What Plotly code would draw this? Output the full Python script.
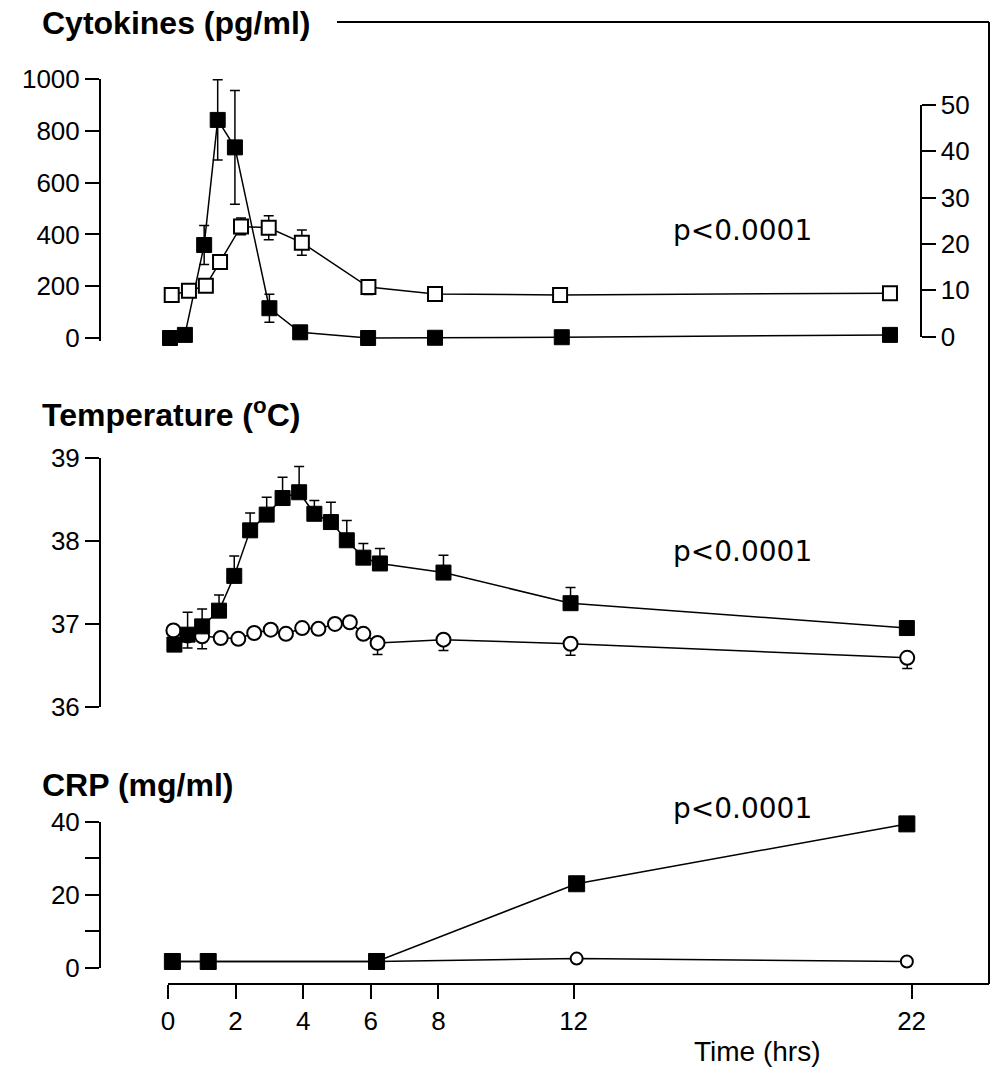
import plotly.graph_objects as go

# --- data (time in hrs) ---
cyto_black_t = [0.06, 0.5, 1.07, 1.47, 1.98, 3.0, 3.91, 5.92, 7.9, 11.65, 21.36]
cyto_black = [0, 12, 359, 842, 736, 115, 22, 0, 1, 3, 12]
cyto_black_err = [0, 0, 75, 155, 220, 54, 0, 0, 0, 0, 0]

cyto_open_t = [0.11, 0.62, 1.12, 1.54, 2.16, 2.98, 3.96, 5.93, 7.9, 11.6, 21.36]
cyto_open = [9.0, 9.9, 11.0, 16.1, 23.8, 23.5, 20.3, 10.7, 9.2, 9.0, 9.4]
cyto_open_err = [0, 0, 0, 0, 1.8, 2.6, 2.7, 1.6, 0, 0, 0]

temp_black_t = [0.19, 0.58, 1.01, 1.51, 1.96, 2.43, 2.92, 3.39, 3.88, 4.33, 4.82,
                5.29, 5.78, 6.27, 8.15, 11.91, 21.86]
temp_black = [36.75, 36.87, 36.97, 37.16, 37.58, 38.13, 38.32, 38.52, 38.59, 38.33,
              38.23, 38.01, 37.80, 37.73, 37.62, 37.25, 36.95]
temp_black_err = [0, 0.27, 0.21, 0.19, 0.24, 0.21, 0.21, 0.25, 0.31, 0.16, 0.24,
                  0.24, 0.17, 0.18, 0.21, 0.19, 0]

temp_open_t = [0.16, 0.58, 1.01, 1.56, 2.08, 2.55, 3.04, 3.49, 3.97, 4.45, 4.94,
               5.38, 5.78, 6.2, 8.15, 11.91, 21.87]
temp_open = [36.92, 36.86, 36.85, 36.83, 36.82, 36.89, 36.93, 36.88, 36.95, 36.94,
             37.00, 37.02, 36.88, 36.77, 36.81, 36.76, 36.59]
temp_open_err = [0, 0.15, 0.15, 0, 0, 0, 0, 0, 0, 0, 0, 0, 0, 0.14, 0.13, 0.14, 0.13]

crp_t = [0.13, 1.19, 6.17, 12.09, 21.86]
crp_black = [1.7, 1.7, 1.7, 23.0, 39.4]
crp_open = [1.7, 1.7, 1.7, 2.5, 1.7]

x_ticks = [0, 2, 4, 6, 8, 12, 22]

# the page body has an 8px margin, so the figure is drawn 8px in from the corner
OFF = 8
W, H = 1004 - 2 * OFF, 1081 - 2 * OFF


def px(x):
    return (x - OFF) / W


def py(y):
    return 1 - (y - OFF) / H


fig = go.Figure()

fig.add_trace(go.Scatter(
    x=cyto_black_t, y=cyto_black, xaxis="x", yaxis="y", mode="lines+markers",
    line=dict(color="black", width=1.5),
    marker=dict(symbol="square", size=15, color="black", line=dict(color="black", width=1)),
    error_y=dict(type="data", array=cyto_black_err, color="black", thickness=1.5, width=5),
    cliponaxis=False))
fig.add_trace(go.Scatter(
    x=cyto_open_t, y=cyto_open, xaxis="x", yaxis="y2", mode="lines+markers",
    line=dict(color="black", width=1.5),
    marker=dict(symbol="square", size=14, color="white", line=dict(color="black", width=2)),
    error_y=dict(type="data", array=cyto_open_err, color="black", thickness=1.5, width=5),
    cliponaxis=False))

fig.add_trace(go.Scatter(
    x=temp_open_t, y=temp_open, xaxis="x", yaxis="y3", mode="lines+markers",
    line=dict(color="black", width=1.5),
    marker=dict(symbol="circle", size=14, color="white", line=dict(color="black", width=2)),
    error_y=dict(type="data", symmetric=False, array=[0] * len(temp_open_err),
                 arrayminus=temp_open_err, color="black", thickness=1.5, width=5),
    cliponaxis=False))
fig.add_trace(go.Scatter(
    x=temp_black_t, y=temp_black, xaxis="x", yaxis="y3", mode="lines+markers",
    line=dict(color="black", width=1.5),
    marker=dict(symbol="square", size=15, color="black", line=dict(color="black", width=1)),
    error_y=dict(type="data", symmetric=False, array=temp_black_err,
                 arrayminus=[0] * len(temp_black_err), color="black", thickness=1.5, width=5),
    cliponaxis=False))

fig.add_trace(go.Scatter(
    x=crp_t, y=crp_open, xaxis="x", yaxis="y4", mode="lines+markers",
    line=dict(color="black", width=1.5),
    marker=dict(symbol="circle", size=12, color="white", line=dict(color="black", width=2)),
    cliponaxis=False))
fig.add_trace(go.Scatter(
    x=crp_t, y=crp_black, xaxis="x", yaxis="y4", mode="lines+markers",
    line=dict(color="black", width=1.5),
    marker=dict(symbol="square", size=16, color="black", line=dict(color="black", width=1)),
    cliponaxis=False))

tickfont = dict(family="Liberation Sans", size=26, color="black")
axis_common = dict(showgrid=False, zeroline=False, showline=True, linecolor="black",
                   linewidth=2, ticks="outside", ticklen=14, tickwidth=2,
                   tickcolor="black", tickfont=tickfont, fixedrange=True,
                   automargin=False)

fig.update_layout(
    template="simple_white",
    width=W, height=H, margin=dict(l=0, r=0, t=0, b=0, autoexpand=False),
    paper_bgcolor="white", plot_bgcolor="rgba(0,0,0,0)", showlegend=False,
    xaxis=dict(axis_common, domain=[px(168), px(989)], range=[0, (989 - 168) / 33.8],
               tickvals=x_ticks, ticktext=[str(v) for v in x_ticks],
               anchor="free", position=py(984)),
    yaxis=dict(axis_common, domain=[py(340.6), py(79)], range=[-10, 1000],
               tickvals=[0, 200, 400, 600, 800, 1000], anchor="free", position=px(100)),
    yaxis2=dict(axis_common, domain=[py(336.7), py(105)], range=[0, 50],
                tickvals=[0, 10, 20, 30, 40, 50], side="right",
                anchor="free", position=px(920.5)),
    yaxis3=dict(axis_common, domain=[py(706.7), py(458.3)], range=[36, 39],
                tickvals=[36, 37, 38, 39], anchor="free", position=px(100)),
    yaxis4=dict(axis_common, domain=[py(967.7), py(821.7)], range=[0, 40],
                tickvals=[0, 20, 40], anchor="free", position=px(100),
                minor=dict(dtick=10, tick0=0, ticks="outside", ticklen=14, tickwidth=2,
                           tickcolor="black", showgrid=False)),
)

# frame lines
frame = dict(color="black", width=2)
fig.add_shape(type="line", xref="paper", yref="paper", x0=px(337), x1=px(989),
              y0=py(22), y1=py(22), line=frame, opacity=1)
fig.add_shape(type="line", xref="paper", yref="paper", x0=px(989), x1=px(989),
              y0=py(22), y1=py(984), line=frame, opacity=1)

title_font = dict(family="Liberation Sans", size=32, color="black")
for txt, y in [("<b>Cytokines (pg/ml)</b>", 22.5),
               ("<b>Temperature (<sup>o</sup>C)</b>", 412.5),
               ("<b>CRP (mg/ml)</b>", 784.7)]:
    fig.add_annotation(text=txt, xref="paper", yref="paper", x=px(40), y=py(y),
                       xanchor="left", yanchor="middle", showarrow=False, font=title_font)

p_font = dict(family="DejaVu Sans", size=28, color="black")
for y in [231, 551, 808]:
    fig.add_annotation(text="p<0.0001", xref="paper", yref="paper", x=px(742), y=py(y),
                       xanchor="center", yanchor="middle", showarrow=False, font=p_font)

fig.add_annotation(text="Time (hrs)", xref="paper", yref="paper", x=px(757), y=py(1051),
                   xanchor="center", yanchor="middle", showarrow=False,
                   font=dict(family="Liberation Sans", size=28, color="black"))

fig.write_html("out.html")
